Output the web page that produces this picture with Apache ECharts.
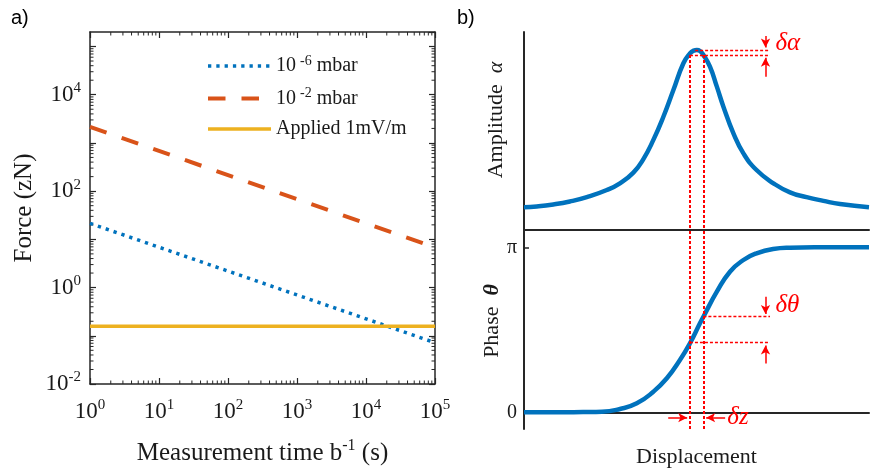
<!DOCTYPE html>
<html>
<head>
<meta charset="utf-8">
<script src="https://cdn.jsdelivr.net/npm/echarts@6/dist/echarts.min.js"></script>
<style>
html, body { margin: 0; padding: 0; background: #fff; }
#chart { width: 886px; height: 473px; }
</style>
</head>
<body>
<div id="chart"></div>
<script>
// ---- a) force vs measurement time (log-log) ----
const timeEnds = [1, 1e5];
const forceLow = [21.5, 0.072];      // 10^-6 mbar
const forceHigh = [2160, 6.8];       // 10^-2 mbar
const forceApplied = [0.158, 0.158]; // applied 1mV/m
const legendNames = ['10^-6 mbar', '10^-2 mbar', 'Applied 1mV/m'];

// ---- b) resonance sketch, arbitrary units (displacement 0..100) ----
const ampX = [0, 3.7, 8.5, 13.3, 18.2, 24.0, 27.8, 31.7, 34.6, 37.5, 40.4, 43.3, 46.2, 48.1, 49.2, 50.1, 51.0, 52.0, 53.9, 55.9, 57.8, 60.7, 63.6, 67.4, 72.3, 77.1, 81.9, 86.8, 91.6, 100];
const ampY = [11.5, 11.9, 12.9, 14.4, 16.6, 20.2, 23.6, 29.0, 35.8, 45.5, 57.2, 70.7, 84.2, 89.2, 90.6, 90.9, 90.4, 88.4, 82.5, 72.4, 62.3, 48.8, 38.7, 30.3, 23.6, 19.0, 16.6, 14.7, 13.1, 11.5];
const phaseX = [0, 10, 17.1, 22.6, 27.8, 32.7, 37.5, 41.4, 45.2, 48.1, 51.0, 52.0, 55.9, 59.7, 63.6, 67.4, 72.2, 77.1, 85, 100];
const phaseY = [0, 0, 0.005, 0.01, 0.063, 0.171, 0.392, 0.647, 0.996, 1.314, 1.695, 1.820, 2.296, 2.677, 2.900, 3.027, 3.109, 3.134, 3.141, 3.142];

// annotation positions (same units as above)
const zLeft = 48.1, zRight = 52.0, annEnd = 71.3, arrowX = 70.0;
const alphaHi = 90.9, alphaLo = 88.4;
const thetaHi = 1.82, thetaLo = 1.325;

const SERIF = '"Liberation Serif", "Times New Roman", serif';
const INK = '#1a1a1a';
const AX = '#262626';
const RED = '#ff0000';
const BLUE = '#0072BD', ORANGE = '#D95319', YELLOW = '#EDB120';

const pairs = (xs, ys) => xs.map((x, i) => [x, ys[i]]);

// rich text for 10^n labels
const richPow = {
  b: { fontFamily: SERIF, fontSize: 23, lineHeight: 28, color: INK },
  s: { fontFamily: SERIF, fontSize: 15, lineHeight: 15, color: INK, verticalAlign: 'top' }
};
function powLabel(v, evenOnly) {
  const l = Math.log10(v);
  const e = Math.round(l);
  if (Math.abs(l - e) > 1e-6) return '';
  if (evenOnly && e % 2 !== 0) return '';
  return '{b|10}{s|' + e + '}';
}

// minor ticks (2..9 per decade) for the log box
const xMinor = [], yMinor = [];
for (let d = 0; d < 5; d++) for (let k = 2; k <= 9; k++) xMinor.push([k * Math.pow(10, d), 1]);
for (let d = -2; d < 6; d++) for (let k = 2; k <= 9; k++) {
  const v = k * Math.pow(10, d);
  if (v < 2e5) yMinor.push([1, v]);
}

const chart = echarts.init(document.getElementById('chart'));

const logX = (pos, show) => ({
  type: 'log', logBase: 10, gridIndex: 0, position: pos, min: 1, max: 1e5, splitNumber: 5,
  axisLine: { show: true, lineStyle: { color: AX, width: 1.5 } },
  axisTick: { show: true, inside: true, length: 6, lineStyle: { color: AX, width: 1.2 } },
  axisLabel: { show: show, margin: 14, formatter: v => powLabel(v, false), rich: richPow },
  splitLine: { show: false }
});
const logY = (pos, show) => ({
  type: 'log', logBase: 10, gridIndex: 0, position: pos, min: 0.01, max: 2e5, splitNumber: 8,
  axisLine: { show: true, lineStyle: { color: AX, width: 1.5 } },
  axisTick: { show: true, inside: true, length: 6, lineStyle: { color: AX, width: 1.2 } },
  axisLabel: { show: show, margin: 9, showMaxLabel: false, formatter: v => powLabel(v, true), rich: richPow },
  splitLine: { show: false }
});

const dotted = (w) => ({ color: RED, width: w, type: [3, 2] });
const seg = (a, b, w) => [{ coord: a }, { coord: b, lineStyle: dotted(w) }];
const arrow = (from, to) => [
  { coord: from, symbol: 'none' },
  { coord: to, symbol: 'arrow', symbolSize: [7, 9], lineStyle: { color: RED, width: 1.5, type: 'solid' } }
];
const redLabel = (coord, text) => ({
  coord: coord, symbol: 'circle', symbolSize: 1, itemStyle: { color: 'rgba(0,0,0,0)' },
  label: { show: true, position: 'right', distance: 0, formatter: text,
    fontFamily: SERIF, fontStyle: 'italic', fontSize: 25, color: RED }
});

const tickRender = (horizontal) => (params, api) => {
  const cs = params.coordSys;
  const p = api.coord([api.value(0), api.value(1)]);
  const st = { stroke: AX, lineWidth: 1 };
  if (horizontal) {
    return { type: 'group', children: [
      { type: 'line', shape: { x1: p[0], y1: cs.y + cs.height, x2: p[0], y2: cs.y + cs.height - 3.5 }, style: st },
      { type: 'line', shape: { x1: p[0], y1: cs.y, x2: p[0], y2: cs.y + 3.5 }, style: st }
    ] };
  }
  return { type: 'group', children: [
    { type: 'line', shape: { x1: cs.x, y1: p[1], x2: cs.x + 3.5, y2: p[1] }, style: st },
    { type: 'line', shape: { x1: cs.x + cs.width, y1: p[1], x2: cs.x + cs.width - 3.5, y2: p[1] }, style: st }
  ] };
};

chart.setOption({
  animation: false,
  backgroundColor: '#fff',
  title: [
    { text: 'a)', left: 6, top: 3, textStyle: { fontFamily: '"Liberation Sans", Arial, sans-serif', fontSize: 20, fontWeight: 'normal', color: '#000' } },
    { text: 'b)', left: 452, top: 3, textStyle: { fontFamily: '"Liberation Sans", Arial, sans-serif', fontSize: 20, fontWeight: 'normal', color: '#000' } }
  ],
  legend: {
    data: [
      { name: legendNames[0], lineStyle: { width: 3.5 } },
      { name: legendNames[1], lineStyle: { width: 4 } },
      { name: legendNames[2], lineStyle: { width: 3.5 } }
    ],
    orient: 'vertical',
    left: 201, top: 49,
    itemWidth: 63, itemHeight: 6, itemGap: 10.5,
    itemStyle: { opacity: 0, borderWidth: 0 },
    selectedMode: false,
    formatter: name => {
      if (name === legendNames[0]) return '{b|10}{s|-6}{b| mbar}';
      if (name === legendNames[1]) return '{b|10}{s|-2}{b| mbar}';
      return '{b|' + name + '}';
    },
    textStyle: {
      rich: {
        b: { fontFamily: SERIF, fontSize: 20, lineHeight: 24, color: INK },
        s: { fontFamily: SERIF, fontSize: 14, lineHeight: 14, color: INK, verticalAlign: 'top', padding: [0, 0, 0, 4] }
      }
    }
  },
  grid: [
    { left: 90, top: 32, width: 345, height: 354 },
    { left: 524, top: 32, width: 345, height: 198 },
    { left: 524, top: 231, width: 345, height: 198 }
  ],
  xAxis: [
    Object.assign(logX('bottom', true), {
      name: 'Measurement time b{s|-1} (s)', nameLocation: 'middle', nameGap: 54,
      nameTextStyle: { fontFamily: SERIF, fontSize: 25, lineHeight: 30, color: INK,
        rich: { s: { fontFamily: SERIF, fontSize: 16, lineHeight: 16, verticalAlign: 'top', color: INK } } }
    }),
    logX('top', false),
    { type: 'value', gridIndex: 1, min: 0, max: 100, position: 'bottom',
      axisLine: { show: true, lineStyle: { color: AX, width: 2 } },
      axisTick: { show: false }, axisLabel: { show: false }, splitLine: { show: false } },
    { type: 'value', gridIndex: 2, min: 0, max: 100, position: 'bottom',
      axisLine: { show: true, lineStyle: { color: AX, width: 2 } },
      axisTick: { show: false }, axisLabel: { show: false }, splitLine: { show: false },
      name: 'Displacement', nameLocation: 'middle', nameGap: 17,
      nameTextStyle: { fontFamily: SERIF, fontSize: 22, color: INK } }
  ],
  yAxis: [
    Object.assign(logY('left', true), {
      name: 'Force (zN)', nameLocation: 'middle', nameGap: 53,
      nameTextStyle: { fontFamily: SERIF, fontSize: 25, color: INK, padding: [0, 0, 0, 0] }
    }),
    logY('right', false),
    { type: 'value', gridIndex: 1, min: 0, max: 100,
      axisLine: { show: true, lineStyle: { color: AX, width: 2 } },
      axisTick: { show: false }, axisLabel: { show: false }, splitLine: { show: false },
      name: 'Amplitude  {g|α}', nameLocation: 'middle', nameGap: 17,
      nameTextStyle: { fontFamily: SERIF, fontSize: 22, color: INK, padding: [0, 0, 0, 22],
        rich: { g: { fontFamily: SERIF, fontSize: 22, fontStyle: 'italic', color: INK } } } },
    { type: 'value', gridIndex: 2, min: -0.318, max: 3.452,
      axisLine: { show: true, lineStyle: { color: AX, width: 2 } },
      axisTick: { show: true, inside: true, length: 5, customValues: [0, Math.PI], lineStyle: { color: AX, width: 1.5 } },
      axisLabel: { show: true, margin: 7, customValues: [0, Math.PI],
        formatter: v => (v < 1 ? '0' : 'π'), fontFamily: SERIF, fontSize: 20, color: INK },
      splitLine: { show: false },
      name: 'Phase  {t|θ}', nameLocation: 'middle', nameGap: 17,
      nameTextStyle: { fontFamily: SERIF, fontSize: 22, color: INK, padding: [0, 0, 0, 18],
        rich: { t: { fontFamily: SERIF, fontSize: 22, fontStyle: 'italic', fontWeight: 'bold', color: INK } } } }
  ],
  series: [
    { name: legendNames[0], type: 'line', xAxisIndex: 0, yAxisIndex: 0, symbol: 'none',
      data: pairs(timeEnds, forceLow), lineStyle: { color: BLUE, width: 3.5, type: [3.3, 5] },
      itemStyle: { color: BLUE } },
    { name: legendNames[1], type: 'line', xAxisIndex: 0, yAxisIndex: 0, symbol: 'none',
      data: pairs(timeEnds, forceHigh), lineStyle: { color: ORANGE, width: 4, type: [17.5, 16] },
      itemStyle: { color: ORANGE } },
    { name: legendNames[2], type: 'line', xAxisIndex: 0, yAxisIndex: 0, symbol: 'none',
      data: pairs(timeEnds, forceApplied), lineStyle: { color: YELLOW, width: 3.5 },
      itemStyle: { color: YELLOW } },
    { type: 'custom', xAxisIndex: 0, yAxisIndex: 0, silent: true, clip: false,
      renderItem: tickRender(true), data: xMinor },
    { type: 'custom', xAxisIndex: 0, yAxisIndex: 0, silent: true, clip: false,
      renderItem: tickRender(false), data: yMinor },
    { type: 'line', xAxisIndex: 2, yAxisIndex: 2, symbol: 'none', smooth: 0.5,
      data: pairs(ampX, ampY), lineStyle: { color: BLUE, width: 4.5 }, z: 3,
      markLine: {
        silent: true, animation: false, symbol: ['none', 'none'], label: { show: false },
        data: [
          seg([zLeft, alphaLo], [zLeft, 0], 2),
          seg([zRight, alphaLo], [zRight, 0], 2),
          seg([49.6, alphaHi], [annEnd, alphaHi], 1.3),
          seg([zLeft, alphaLo], [annEnd, alphaLo], 1.3),
          arrow([arrowX, 98.0], [arrowX, 92.2]),
          arrow([arrowX, 77.4], [arrowX, 87.0])
        ]
      },
      markPoint: { silent: true, animation: false, data: [redLabel([72.75, 94.4], 'δα')] }
    },
    { type: 'line', xAxisIndex: 3, yAxisIndex: 3, symbol: 'none', smooth: 0.5,
      data: pairs(phaseX, phaseY), lineStyle: { color: BLUE, width: 4.5 }, z: 3,
      markLine: {
        silent: true, animation: false, symbol: ['none', 'none'], label: { show: false },
        data: [
          seg([zLeft, 3.452], [zLeft, -0.318], 2),
          seg([zRight, 3.452], [zRight, -0.318], 2),
          seg([zRight, thetaHi], [annEnd, thetaHi], 1.3),
          seg([zLeft, thetaLo], [annEnd, thetaLo], 1.3),
          arrow([arrowX, 2.20], [arrowX, 1.87]),
          arrow([arrowX, 0.93], [arrowX, 1.27]),
          arrow([41.8, -0.103], [47.3, -0.103]),
          arrow([58.3, -0.103], [52.8, -0.103])
        ]
      },
      markPoint: { silent: true, animation: false, data: [
        redLabel([72.75, 2.04], 'δθ'),
        redLabel([58.8, -0.09], 'δz')
      ] }
    }
  ]
});
</script>
</body>
</html>
